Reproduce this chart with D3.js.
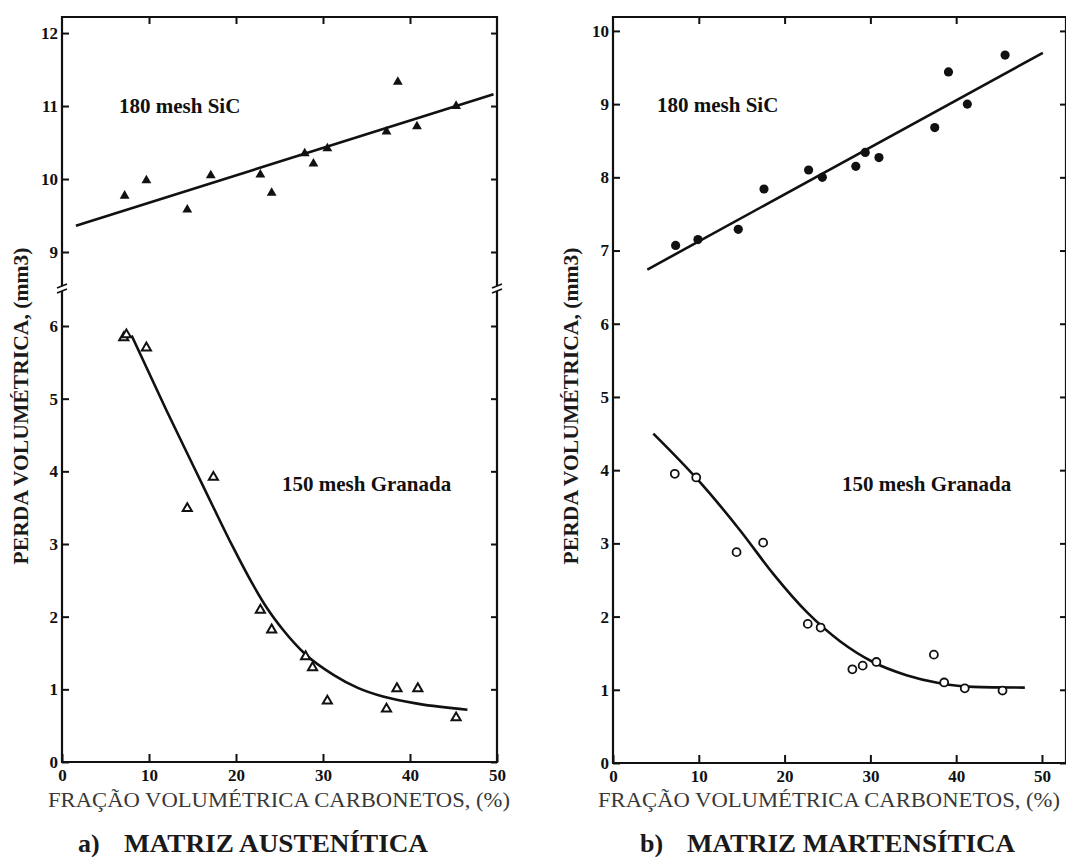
<!DOCTYPE html>
<html>
<head>
<meta charset="utf-8">
<script src="https://cdn.jsdelivr.net/npm/d3@7"></script>
<style>
  body { margin: 0; background: #fff; }
  svg { display: block; }
  text { font-family: "Liberation Serif", "Times New Roman", "DejaVu Serif", serif; }
</style>
</head>
<body>
<svg id="chart" width="1066" height="857"></svg>
<script>
// ---- data ----
const xTicks = [0, 10, 20, 30, 40, 50];
const yTicksA = [0, 1, 2, 3, 4, 5, 6, 9, 10, 11, 12];
const yTicksB = [0, 1, 2, 3, 4, 5, 6, 7, 8, 9, 10];

// a) austenitic, 180 mesh SiC (filled triangles)
const sicAx = [7.2, 9.7, 14.4, 17.1, 22.8, 24.1, 27.9, 28.9, 30.5, 37.3, 38.6, 40.8, 45.3];
const sicAy = [9.77, 9.98, 9.58, 10.05, 10.06, 9.81, 10.35, 10.21, 10.42, 10.65, 11.33, 10.72, 11.0];
const sicAfitX = [1.6, 49.6];
const sicAfitY = [9.36, 11.16];

// a) austenitic, 150 mesh Granada (open triangles)
const granAx = [7.1, 7.4, 9.7, 14.4, 17.4, 22.8, 24.1, 28.0, 28.8, 30.5, 37.3, 38.5, 40.9, 45.3];
const granAy = [5.84, 5.88, 5.70, 3.49, 3.92, 2.09, 1.82, 1.45, 1.30, 0.84, 0.73, 1.01, 1.01, 0.61];
const granAfitX = [8.0, 12.0, 15.6, 17.3, 19.6, 21.9, 23.5, 25.4, 28.0, 31.2, 34.0, 36.9, 41.0, 46.6];
const granAfitY = [5.87, 4.84, 3.95, 3.53, 2.97, 2.45, 2.13, 1.82, 1.48, 1.20, 1.02, 0.90, 0.80, 0.72];

// b) martensitic, 180 mesh SiC (filled circles)
const sicBx = [7.3, 9.9, 14.6, 17.6, 22.8, 24.4, 28.3, 29.4, 31.0, 37.5, 39.1, 41.3, 45.7];
const sicBy = [7.07, 7.15, 7.29, 7.84, 8.10, 8.00, 8.15, 8.34, 8.27, 8.68, 9.44, 9.00, 9.67];
const sicBfitX = [4.0, 50.1];
const sicBfitY = [6.74, 9.70];

// b) martensitic, 150 mesh Granada (open circles)
const granBx = [7.2, 9.7, 14.4, 17.5, 22.7, 24.2, 27.9, 29.1, 30.7, 37.4, 38.6, 41.0, 45.4];
const granBy = [3.95, 3.90, 2.88, 3.01, 1.90, 1.85, 1.28, 1.33, 1.38, 1.48, 1.10, 1.02, 0.99];
const granBfitX = [4.7, 9.8, 14.8, 18.7, 22.6, 26.5, 30.3, 34.2, 38.1, 42.0, 48.0];
const granBfitY = [4.50, 3.88, 3.18, 2.58, 2.06, 1.66, 1.38, 1.20, 1.09, 1.04, 1.03];

const zip = (xs, ys) => xs.map((x, i) => ({ x: x, y: ys[i] }));

const svg = d3.select("#chart");

function panel(opt) {
  const x = d3.scaleLinear().domain(opt.xDomain).range([opt.left, opt.right]);
  const y = d3.scaleLinear().domain(opt.yDomain).range(opt.yRange);
  const top = opt.yRange[opt.yRange.length - 1];
  const bottom = opt.yRange[0];
  const g = svg.append("g");

  // axes with inward ticks
  const ax = g.append("g").attr("transform", `translate(0,${bottom})`)
    .call(d3.axisBottom(x).tickValues(xTicks).tickSize(-8).tickPadding(5).tickSizeOuter(0));
  g.append("g").attr("transform", `translate(${opt.left},0)`)
    .call(d3.axisLeft(y).tickValues(opt.yTicks).tickSize(-7).tickPadding(4).tickSizeOuter(0));
  g.append("g").attr("transform", `translate(0,${top})`)
    .call(d3.axisTop(x).tickValues(xTicks.slice(1, -1)).tickSize(-7).tickFormat("").tickSizeOuter(0));
  g.append("g").attr("transform", `translate(${opt.frameRight},0)`)
    .call(d3.axisRight(y).tickValues(opt.yTicks).tickSize(-6).tickFormat("").tickSizeOuter(0));

  g.selectAll(".domain").remove();
  g.selectAll(".tick line").attr("stroke", "#111").attr("stroke-width", 2);
  g.selectAll(".tick text")
    .style("font-family", "'Liberation Serif', 'Times New Roman', serif")
    .attr("font-weight", "bold").attr("font-size", 17).attr("fill", "#111");
  ax.selectAll(".tick text").attr("dy", "0.8em");

  // frame
  g.append("path")
    .attr("d", `M${opt.left},${top}H${opt.frameRight}V${bottom}H${opt.left}Z`)
    .attr("fill", "none").attr("stroke", "#111").attr("stroke-width", 2.2);

  // axis break marks
  if (opt.breakY) {
    [opt.left, opt.frameRight].forEach(bx => {
      g.append("rect").attr("x", bx - 5).attr("y", opt.breakY - 3).attr("width", 10).attr("height", 5).attr("fill", "#fff");
      [-3, 2].forEach(o => {
        g.append("line")
          .attr("x1", bx - 5).attr("y1", opt.breakY + o + 2)
          .attr("x2", bx + 5).attr("y2", opt.breakY + o - 2)
          .attr("stroke", "#111").attr("stroke-width", 1.8);
      });
    });
  }

  // fitted lines
  const line = d3.line().x(d => x(d.x)).y(d => y(d.y)).curve(d3.curveMonotoneX);
  opt.fits.forEach(f => {
    g.append("path").datum(f).attr("d", line)
      .attr("fill", "none").attr("stroke", "#111").attr("stroke-width", 2.6);
  });

  // points
  opt.series.forEach(s => {
    const sel = g.append("g").selectAll("path").data(s.data).join("path")
      .attr("transform", d => `translate(${x(d.x)},${y(d.y)})`)
      .attr("d", d3.symbol(s.symbol, s.size)());
    if (s.filled) sel.attr("fill", "#111");
    else sel.attr("fill", "#fff").attr("stroke", "#111").attr("stroke-width", s.sw);
  });

  // labels inside the plot
  opt.labels.forEach(l => {
    g.append("text").attr("x", l.x).attr("y", l.y).text(l.text)
      .attr("font-weight", "bold").attr("font-size", 21).attr("fill", "#111");
  });

  // y title
  g.append("text")
    .attr("transform", `translate(${opt.yTitleX},406) rotate(-90)`)
    .attr("text-anchor", "middle")
    .attr("font-weight", "bold").attr("font-size", 20).attr("fill", "#1a1a1a")
    .attr("textLength", 317).attr("lengthAdjust", "spacingAndGlyphs")
    .text("PERDA VOLUMÉTRICA, (mm3)");

  // x title
  g.append("text")
    .attr("x", opt.xTitleX).attr("y", 807)
    .attr("font-size", 21).attr("fill", "#383838")
    .attr("textLength", 462).attr("lengthAdjust", "spacingAndGlyphs")
    .text("FRAÇÃO VOLUMÉTRICA CARBONETOS, (%)");

  // caption
  g.append("text").attr("x", opt.capX).attr("y", 852)
    .attr("font-weight", "bold").attr("font-size", 26).attr("fill", "#1a1a1a")
    .text(opt.capLetter);
  g.append("text").attr("x", opt.capX2).attr("y", 852)
    .attr("font-weight", "bold").attr("font-size", 26).attr("fill", "#1a1a1a")
    .attr("textLength", opt.capLen).attr("lengthAdjust", "spacingAndGlyphs")
    .text(opt.capText);
}

panel({
  xDomain: [0, 50], left: 62, right: 497, frameRight: 497,
  yDomain: [0, 6, 9, 12.22], yRange: [762, 326, 252, 17],
  yTicks: yTicksA, breakY: 289,
  fits: [zip(sicAfitX, sicAfitY), zip(granAfitX, granAfitY)],
  series: [
    { data: zip(sicAx, sicAy), symbol: d3.symbolTriangle, size: 42, filled: true },
    { data: zip(granAx, granAy), symbol: d3.symbolTriangle, size: 36, filled: false, sw: 2 }
  ],
  labels: [
    { x: 119, y: 113, text: "180 mesh SiC" },
    { x: 282, y: 491, text: "150 mesh Granada" }
  ],
  yTitleX: 28, xTitleX: 48,
  capX: 78, capLetter: "a)", capX2: 124, capText: "MATRIZ AUSTENÍTICA", capLen: 304
});

panel({
  xDomain: [0, 52.8], left: 613, right: 1066, frameRight: 1066,
  yDomain: [0, 10.19], yRange: [763, 17],
  yTicks: yTicksB, breakY: null,
  fits: [zip(sicBfitX, sicBfitY), zip(granBfitX, granBfitY)],
  series: [
    { data: zip(sicBx, sicBy), symbol: d3.symbolCircle, size: 66, filled: true },
    { data: zip(granBx, granBy), symbol: d3.symbolCircle, size: 50, filled: false, sw: 1.8 }
  ],
  labels: [
    { x: 657, y: 112, text: "180 mesh SiC" },
    { x: 842, y: 491, text: "150 mesh Granada" }
  ],
  yTitleX: 578, xTitleX: 598,
  capX: 640, capLetter: "b)", capX2: 687, capText: "MATRIZ MARTENSÍTICA", capLen: 328
});
</script>
</body>
</html>
